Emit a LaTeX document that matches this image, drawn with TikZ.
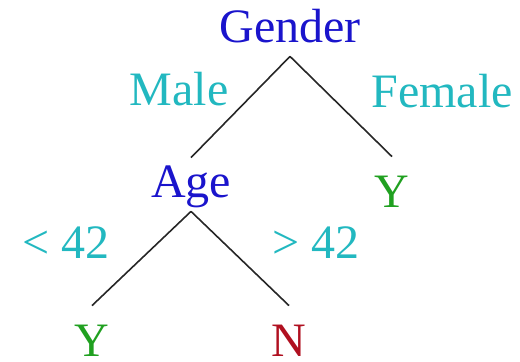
\documentclass[tikz,border=0pt]{standalone}
\usepackage{fontspec}
\setmainfont{Liberation Serif}
\definecolor{attrblue}{HTML}{1A14CC}
\definecolor{edgeteal}{HTML}{22B8C0}
\definecolor{yesgreen}{HTML}{20A020}
\definecolor{nored}{HTML}{B01020}
\begin{document}
\begin{tikzpicture}[x=0.5pt, y=-0.5pt, every node/.style={font=\fontsize{24}{28}\selectfont, anchor=base, text height=16pt, inner xsep=0pt}, attr/.style={text=attrblue, text depth=3.5pt, inner ysep=3.5pt}, leaf/.style={text height=25pt, text depth=0pt, inner ysep=0pt}, lbl/.style={text=edgeteal, inner sep=0pt}, conn/.style={black!85, line width=0.8pt}]
\useasboundingbox (0,0) rectangle (520,361);
\node[attr] (gender) at (290,42) {Gender};
\node[attr] (age) at (191,197) {Age};
\node[leaf, text=yesgreen] (yfemale) at (392,207) {Y};
\node[leaf, text=yesgreen] (yyoung) at (92,356) {Y};
\node[leaf, text=nored] (nold) at (289,356) {N};
\node[lbl] (male) at (179,105) {Male};
\node[lbl] (female) at (442,107) {Female};
\node[lbl] (young) at (66,258) {< 42};
\node[lbl] (old) at (316,258) {> 42};
\draw[conn] (gender.south)--(age.north); \draw[conn] (gender.south)--(yfemale.north); \draw[conn] (age.south)--(yyoung.north); \draw[conn] (age.south)--(nold.north);
\end{tikzpicture}
\end{document}
